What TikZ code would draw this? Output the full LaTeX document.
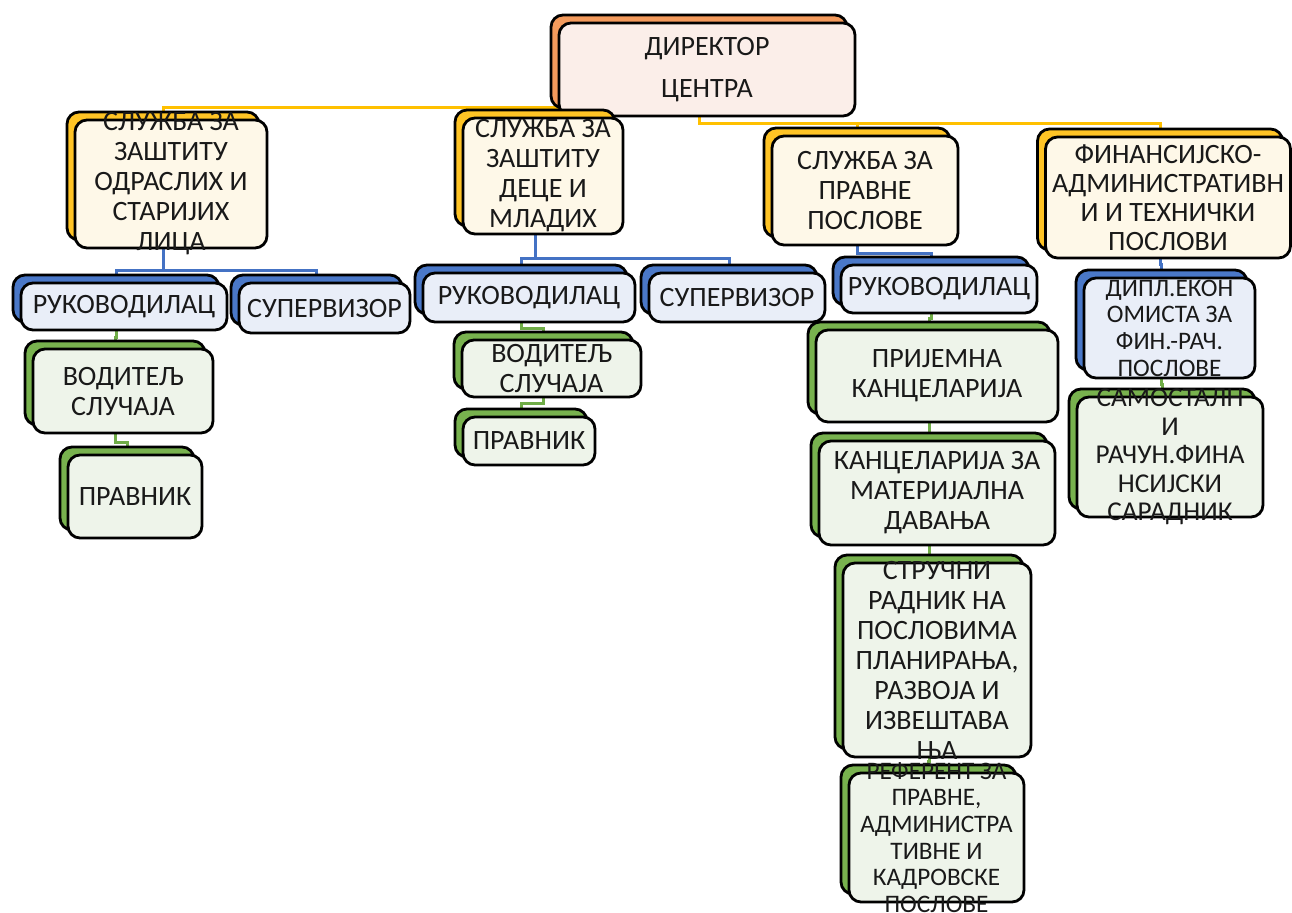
\documentclass[tikz,border=0pt]{standalone}
\usepackage{fontspec}
\setmainfont{Carlito}
\usetikzlibrary{backgrounds}
\definecolor{orB}{HTML}{F39A5C}
\definecolor{orF}{HTML}{FBEEE9}
\definecolor{yeB}{HTML}{FFC425}
\definecolor{yeF}{HTML}{FEF8E8}
\definecolor{blB}{HTML}{4A78C8}
\definecolor{blF}{HTML}{E9EEF8}
\definecolor{grB}{HTML}{78B24E}
\definecolor{grF}{HTML}{EEF4EA}
\definecolor{ylc}{HTML}{FFC000}
\definecolor{blc}{HTML}{4472C4}
\definecolor{grc}{HTML}{70AD47}
\begin{document}
\begin{tikzpicture}[x=0.5pt,y=-0.5pt,
  base/.style={draw=black, line width=1.4pt, rounded corners=6pt, inner sep=0pt, outer sep=0pt},
  frontbox/.style={postaction={fill=#1, draw=black, line width=1.4pt, transform canvas={shift={(4pt,-4pt)}}}},
  orbox/.style={base, fill=orB, frontbox=orF},
  yebox/.style={base, fill=yeB, frontbox=yeF},
  blbox/.style={base, fill=blB, frontbox=blF},
  grbox/.style={base, fill=grB, frontbox=grF},
  sz/.style 2 args={minimum width=#1pt, minimum height=#2pt},
  txt/.style={align=center, inner sep=0pt, xshift=4pt, yshift=-4pt, text=black!90, font=\fontsize{14pt}{15pt}\selectfont},
  txts/.style={txt, font=\fontsize{12.6pt}{13.3pt}\selectfont},
  yl/.style={draw=ylc, line width=1.5pt},
  bl/.style={draw=blc, line width=1.5pt},
  gl/.style={draw=grc, line width=1.5pt}
]
\useasboundingbox (0,0) rectangle (1292,912);

% boxes
\node[orbox, sz={148}{46.5}] (dir) at (699,61.5) {};
\node[yebox, sz={96}{64}]    (a)   at (163,176) {};
\node[yebox, sz={80}{58}]    (b)   at (535,168) {};
\node[yebox, sz={93}{54.5}]  (c)   at (857,182.5) {};
\node[yebox, sz={122.5}{60.5}] (d) at (1160,189.5) {};
\node[blbox, sz={103}{23.5}] (ar)  at (116,298.5) {};
\node[blbox, sz={85.5}{25}]  (as)  at (316.5,300) {};
\node[blbox, sz={106}{24.5}] (br)  at (521,289.5) {};
\node[blbox, sz={88}{24.5}]  (bs)  at (729,289.5) {};
\node[blbox, sz={98}{24}]    (cr)  at (931,281) {};
\node[blbox, sz={85.5}{50}]  (dd)  at (1161.5,320) {};
\node[grbox, sz={90}{42}]    (av)  at (115,383) {};
\node[grbox, sz={67}{41.5}]  (ap)  at (127,488.5) {};
\node[grbox, sz={89.5}{28.5}] (bv) at (543.5,360.5) {};
\node[grbox, sz={66}{24}]    (bp)  at (521,433) {};
\node[grbox, sz={121}{46}]   (cp)  at (929,368) {};
\node[grbox, sz={118}{52}]   (ck)  at (929,485) {};
\node[grbox, sz={94}{97}]    (cs)  at (929,652) {};
\node[grbox, sz={87.5}{64.5}] (cf) at (928.5,829.5) {};
\node[grbox, sz={93}{60}]    (ds)  at (1162,449) {};

% texts
\node[txt, font=\fontsize{14pt}{21pt}\selectfont] (dir-t) at (dir.center) {ДИРЕКТОР\\ЦЕНТРА};
\node[txt] (a-t) at (a.center) {СЛУЖБА ЗА\\ЗАШТИТУ\\ОДРАСЛИХ И\\СТАРИЈИХ\\ЛИЦА};
\node[txt] (b-t) at (b.center) {СЛУЖБА ЗА\\ЗАШТИТУ\\ДЕЦЕ И\\МЛАДИХ};
\node[txt] (c-t) at (c.center) {СЛУЖБА ЗА\\ПРАВНЕ\\ПОСЛОВЕ};
\node[txt, font=\fontsize{14pt}{14.4pt}\selectfont] (d-t) at (d.center) {ФИНАНСИЈСКО-\\АДМИНИСТРАТИВН\\И И ТЕХНИЧКИ\\ПОСЛОВИ};
\node[txt] (ar-t) at (ar.center) {РУКОВОДИЛАЦ};
\node[txt] (as-t) at (as.center) {СУПЕРВИЗОР};
\node[txt] (br-t) at (br.center) {РУКОВОДИЛАЦ};
\node[txt] (bs-t) at (bs.center) {СУПЕРВИЗОР};
\node[txt] (cr-t) at (cr.center) {РУКОВОДИЛАЦ};
\node[txts] (dd-t) at (dd.center) {ДИПЛ.ЕКОН\\ОМИСТА ЗА\\ФИН.-РАЧ.\\ПОСЛОВЕ};
\node[txt] (av-t) at (av.center) {ВОДИТЕЉ\\СЛУЧАЈА};
\node[txt] (ap-t) at (ap.center) {ПРАВНИК};
\node[txt] (bv-t) at (bv.center) {ВОДИТЕЉ\\СЛУЧАЈА};
\node[txt] (bp-t) at (bp.center) {ПРАВНИК};
\node[txt] (cp-t) at (cp.center) {ПРИЈЕМНА\\КАНЦЕЛАРИЈА};
\node[txt] (ck-t) at (ck.center) {КАНЦЕЛАРИЈА ЗА\\МАТЕРИЈАЛНА\\ДАВАЊА};
\node[txt] (cs-t) at (cs.center) {СТРУЧНИ\\РАДНИК НА\\ПОСЛОВИМА\\ПЛАНИРАЊА,\\РАЗВОЈА И\\ИЗВЕШТАВА\\ЊА};
\node[txts] (cf-t) at (cf.center) {РЕФЕРЕНТ ЗА\\ПРАВНЕ,\\АДМИНИСТРА\\ТИВНЕ И\\КАДРОВСКЕ\\ПОСЛОВЕ};
\node[txt, font=\fontsize{13.6pt}{14.2pt}\selectfont] (ds-t) at (ds.center) {САМОСТАЛН\\И\\РАЧУН.ФИНА\\НСИЈСКИ\\САРАДНИК};

% bus levels
\coordinate (yL) at (0,107);
\coordinate (yR) at (0,123);
\coordinate (bA) at (0,270);
\coordinate (bB) at (0,258);
\coordinate (bC) at (0,253);
\coordinate (bD) at (0,264);
\coordinate (gA1) at (0,337);
\coordinate (gA2) at (0,442);
\coordinate (gB1) at (0,328);
\coordinate (gB2) at (0,403);
\coordinate (gC1) at (0,318);
\coordinate (gC2) at (0,428);
\coordinate (gC3) at (0,550);
\coordinate (gC4) at (0,761);
\coordinate (gD1) at (0,384);

\begin{scope}[on background layer]
  \draw[yl] (a.north) |- (dir.center |- yL);
  \draw[yl] (b.north) |- (dir.center |- yL);
  \draw[yl] (dir.south) -- (dir.south |- yR) -| (d.north);
  \draw[yl] (dir.south |- yR) -| (c.north);
  \draw[bl] (a.south) -- (a.south |- bA) -| (ar.north);
  \draw[bl] (a.south |- bA) -| (as.north);
  \draw[bl] (b.south) -- (b.south |- bB) -| (br.north);
  \draw[bl] (b.south |- bB) -| (bs.north);
  \draw[bl] (c.south) -- (c.south |- bC) -| (cr.north);
  \draw[bl] (d.south) -- (d.south |- bD) -| (dd.north);
  \draw[gl] (ar.south) -- (ar.south |- gA1) -| (av.north);
  \draw[gl] (av.south) -- (av.south |- gA2) -| (ap.north);
  \draw[gl] (br.south) -- (br.south |- gB1) -| (bv.north);
  \draw[gl] (bv.south) -- (bv.south |- gB2) -| (bp.north);
  \draw[gl] (cr.south) -- (cr.south |- gC1) -| (cp.north);
  \draw[gl] (cp.south) -- (cp.south |- gC2) -| (ck.north);
  \draw[gl] (ck.south) -- (ck.south |- gC3) -| (cs.north);
  \draw[gl] (cs.south) -- (cs.south |- gC4) -| (cf.north);
  \draw[gl] (dd.south) -- (dd.south |- gD1) -| (ds.north);
\end{scope}
\end{tikzpicture}
\end{document}
